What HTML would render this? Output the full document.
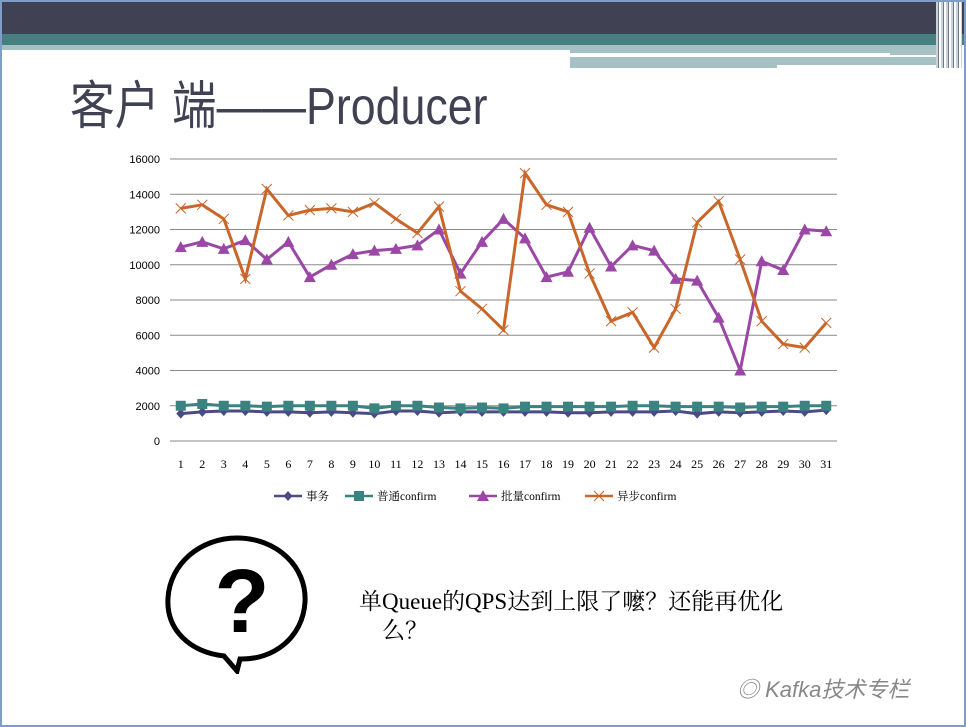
<!DOCTYPE html>
<html><head><meta charset="utf-8"><style>
body{margin:0;width:966px;height:727px;overflow:hidden;background:#fff;font-family:"Liberation Sans","Noto Sans CJK SC",sans-serif}
#slide{position:absolute;left:0;top:0;width:962px;height:723px;border:2px solid #7f9dc9;background:#fff;overflow:hidden}
.abs{position:absolute}
</style></head><body>
<div id="slide">
<div class="abs" style="left:0;top:0;width:962px;height:32px;background:#404254"></div>
<div class="abs" style="left:0;top:32px;width:962px;height:11px;background:#44807f"></div>
<div class="abs" style="left:0;top:43px;width:568px;height:5px;background:#a6c1c4"></div>
<div class="abs" style="left:568px;top:43px;width:390px;height:10px;background:#a6c1c4"></div>
<div class="abs" style="left:568px;top:51px;width:320px;height:3px;background:#fff"></div>
<div class="abs" style="left:568px;top:55px;width:390px;height:11px;background:#a6c1c4"></div>
<div class="abs" style="left:775px;top:63px;width:185px;height:3px;background:#fff"></div>
<div class="abs" style="left:934px;top:0;width:26px;height:66px;background:repeating-linear-gradient(90deg,#c8d2d8 0 2px,#6d7a8a 2px 3px,#fff 3px 5px)"></div>
<div class="abs" style="left:68px;top:62px;font-size:52px;color:#404254;font-family:'Liberation Sans','WenQuanYi Zen Hei',sans-serif;transform:scaleX(0.86);transform-origin:0 0;white-space:nowrap">客户 端——Producer</div>

<svg class="abs" style="left:0;top:0" width="962" height="540" id="chart"></svg>

<svg class="abs" style="left:160px;top:530px" width="150" height="142">
<path d="M75,6 C115,6 145,35 143,70 C141,105 112,128 78,127 L75,139 L62,124 C28,120 4,98 6,66 C8,32 38,6 75,6 Z" fill="#fff" stroke="#000" stroke-width="5"/>
<text x="80" y="100" font-size="90" font-weight="bold" text-anchor="middle" font-family="Liberation Sans,sans-serif">?</text>
</svg>
<div class="abs" style="left:357px;top:585px;font-size:23px;line-height:29px;font-family:'Liberation Serif','Noto Serif CJK SC',serif;color:#000;white-space:nowrap">单Queue的QPS达到上限了嚒？还能再优化<br>&nbsp;&nbsp;&nbsp;&nbsp;么？</div>
<div class="abs" style="left:735px;top:670px;font-size:22px;color:#888;font-style:italic">◎ Kafka技术专栏</div>
</div>
<script>
const categories=[];for(let i=1;i<=31;i++)categories.push(String(i));
const yTicks=[0,2000,4000,6000,8000,10000,12000,14000,16000];
const shiwu=[1550,1650,1700,1700,1650,1650,1600,1650,1600,1550,1700,1700,1600,1650,1650,1650,1650,1650,1600,1600,1650,1650,1650,1700,1550,1650,1600,1650,1700,1650,1750];
const putong=[2000,2100,2000,2000,1950,2000,2000,2000,2000,1850,2000,2000,1900,1850,1900,1850,1950,1950,1950,1950,1950,2000,2000,1950,1950,1950,1900,1950,1950,2000,2000];
const piliang=[11000,11300,10900,11400,10300,11300,9300,10000,10600,10800,10900,11100,12000,9500,11300,12600,11500,9300,9600,12100,9900,11100,10800,9200,9100,7000,4000,10200,9700,12000,11900];
const yibu=[13200,13400,12600,9200,14300,12800,13100,13200,13000,13500,12600,11800,13300,8500,7500,6300,15200,13400,13000,9500,6800,7300,5300,7500,12400,13600,10300,6800,5500,5300,6700];
const seriesNames=["事务","普通confirm","批量confirm","异步confirm"];
const NS="http://www.w3.org/2000/svg";
const svg=document.getElementById('chart');
const X0=168,X1=835,Y0=439,Y1=157;
const xs=i=>X0+(X1-X0)/categories.length*(i+0.5);
const ys=v=>Y0-(v/16000)*(Y0-Y1);
function mk(t,a){const e=document.createElementNS(NS,t);for(const k in a)e.setAttribute(k,a[k]);svg.appendChild(e);return e;}
yTicks.forEach((t,i)=>{
 const l=mk('line',{x1:X0,x2:X1,y1:ys(t),y2:ys(t),stroke:'#8a8a8a','stroke-width':1});
 
 
 const tx=mk('text',{x:158,y:ys(t)+4,'font-size':11,'text-anchor':'end','font-family':'Liberation Sans,sans-serif'});tx.textContent=t;
 
 
});
categories.forEach((c,i)=>{
 const tx=mk('text',{x:xs(i),y:466,'font-size':12,'text-anchor':'middle','font-family':'Liberation Serif,serif'});tx.textContent=c;
 
 
});
const colors=['#4b4a86','#3b8380','#9b47a6','#c9662a'];
const data=[shiwu,putong,piliang,yibu];
function marker(k,x,y){
 let e;
 if(k===0)e=mk('path',{d:`M${x},${y-5}L${x+4.5},${y}L${x},${y+5}L${x-4.5},${y}Z`,fill:colors[0]});
 else if(k===1)e=mk('rect',{x:x-5,y:y-5,width:10,height:10,fill:colors[1]});
 else if(k===2)e=mk('path',{d:`M${x},${y-6}L${x+6},${y+5}L${x-6},${y+5}Z`,fill:colors[2]});
 else e=mk('path',{d:`M${x-5},${y-5}L${x+5},${y+5}M${x-5},${y+5}L${x+5},${y-5}`,stroke:colors[3],'stroke-width':1});
 return e;
}
data.forEach((arr,k)=>{
 const p=mk('polyline',{points:arr.map((v,i)=>xs(i)+','+ys(v)).join(' '),fill:'none',stroke:colors[k],'stroke-width':3});
 
 
 arr.forEach((v,i)=>{const m=marker(k,xs(i),ys(v));
  
  });
});
const lx=[272,343,467,583];
seriesNames.forEach((n,k)=>{
 const y=494;
 const l=mk('line',{x1:lx[k],x2:lx[k]+28,y1:y,y2:y,stroke:colors[k],'stroke-width':2.5});
 
 
 marker(k,lx[k]+14,y);
 const t=mk('text',{x:lx[k]+32,y:y+4,'font-size':11.5,'font-family':'Liberation Serif,Noto Serif CJK SC,serif'});t.textContent=n;
 
 
});
</script>
</body></html>
